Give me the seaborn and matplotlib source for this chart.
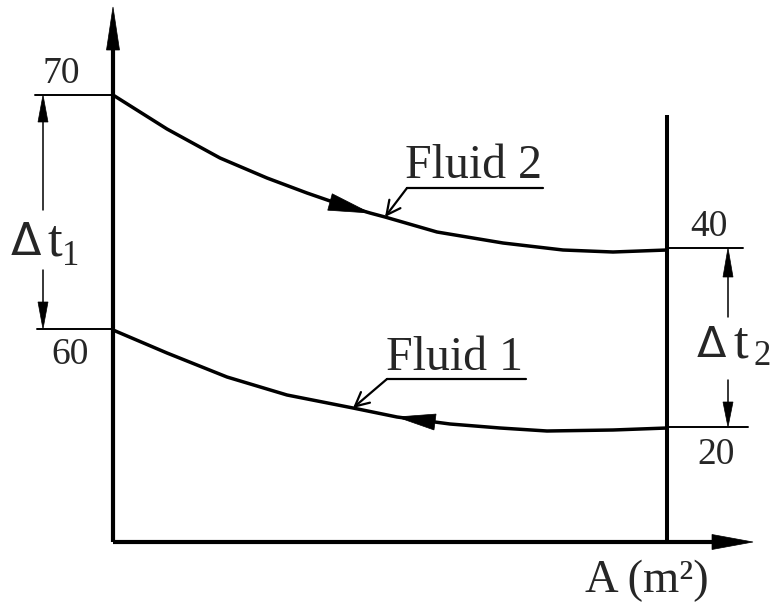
import numpy as np
import pandas as pd
import matplotlib
matplotlib.use("Agg")
import matplotlib.pyplot as plt
from matplotlib.patches import Polygon
import seaborn as sns

# ---- data (schematic diagram units: x = heat-transfer area position, y = diagram height) ----
A_fluid2 = [0, 54, 107, 154, 194, 220, 257, 272, 324, 390, 450, 500, 554]
Y_fluid2 = [447, 413, 384, 364, 349, 340, 329, 325, 310, 299, 292, 290, 292]
A_fluid1 = [0, 54, 114, 174, 240, 284, 337, 387, 434, 500, 554]
Y_fluid1 = [212, 189, 165, 147, 134, 125, 118, 114, 111, 112, 114]

left_labels = ["70", "60"]
left_pos = [447, 213]
right_labels = ["40", "20"]
right_pos = [294, 115]
A_end = 554
series_names = ["Fluid 2", "Fluid 1"]
x_label = "A (m²)"

sns.set_theme(style="white")
plt.rcParams["font.family"] = ["Liberation Serif", "DejaVu Serif"]

fig = plt.figure(figsize=(7.74, 6.11), dpi=100)
ax = fig.add_axes([0, 0, 1, 1])
ax.set_xlim(-113, 661)
ax.set_ylim(-69, 542)
ax.axis("off")

df = pd.concat([
    pd.DataFrame({"A": A_fluid2, "y": Y_fluid2, "fluid": series_names[0]}),
    pd.DataFrame({"A": A_fluid1, "y": Y_fluid1, "fluid": series_names[1]}),
])
sns.lineplot(data=df, x="A", y="y", units="fluid", estimator=None, sort=False,
             color="black", lw=2.5, ax=ax, legend=False)
for l in ax.lines:
    l.set_solid_joinstyle("round")


def head(tip, base, width):
    tip = np.array(tip, float)
    base = np.array(base, float)
    d = tip - base
    n = np.array([-d[1], d[0]]) / np.hypot(*d)
    pts = [tip, base + n * width / 2, base - n * width / 2]
    ax.add_patch(Polygon(pts, closed=True, facecolor="black", edgecolor="black", lw=0.5))


# axes
ax.plot([0, 0], [0, 500], color="black", lw=3.0, solid_capstyle="butt")
head((0, 535), (0, 492), 13)
ax.plot([0, 605], [0, 0], color="black", lw=3.0, solid_capstyle="butt")
head((640, 0), (599, 0), 15)
ax.plot([A_end, A_end], [-2, 427], color="black", lw=2.9, solid_capstyle="butt")

# tick lines and labels
ax.plot([-78, 0], [left_pos[0]] * 2, color="black", lw=1.4)
ax.plot([-76, 0], [left_pos[1]] * 2, color="black", lw=1.4)
ax.plot([A_end, 630], [right_pos[0]] * 2, color="black", lw=1.4)
ax.plot([A_end, 635], [right_pos[1]] * 2, color="black", lw=1.4)
ax.text(-52, left_pos[0] + 21, left_labels[0], fontsize=27, ha="center", va="center")
ax.text(-43, left_pos[1] - 26, left_labels[1], fontsize=27, ha="center", va="center")
ax.text(596, right_pos[0] + 21, right_labels[0], fontsize=27, ha="center", va="center")
ax.text(603, right_pos[1] - 28, right_labels[1], fontsize=27, ha="center", va="center")

# dimension arrows
xd1 = -70
ax.plot([xd1, xd1], [332, 425], color="black", lw=1.1)
head((xd1, left_pos[0]), (xd1, 420), 10)
ax.plot([xd1, xd1], [272, 235], color="black", lw=1.1)
head((xd1, left_pos[1]), (xd1, 240), 10)
ax.text(-87, 287, "Δ", fontsize=32, ha="center", va="baseline", family=["DejaVu Sans"])
ax.text(-58, 287, "t", fontsize=38, ha="center", va="baseline")
ax.text(-42, 277, "1", fontsize=25, ha="center", va="baseline")

xd2 = 615
ax.plot([xd2, xd2], [225, 270], color="black", lw=1.1)
head((xd2, right_pos[0]), (xd2, 265), 10)
ax.plot([xd2, xd2], [162, 138], color="black", lw=1.1)
head((xd2, right_pos[1]), (xd2, 140), 10)
ax.text(598, 185, "Δ", fontsize=31, ha="center", va="baseline", family=["DejaVu Sans"])
ax.text(628, 185, "t", fontsize=38, ha="center", va="baseline")
ax.text(649, 177, "2", fontsize=25, ha="center", va="baseline")

# flow direction arrowheads on curves
head((257, 329), (217, 340), 17)
head((284, 125), (322, 120), 16)

# labels with leaders
ax.text(292, 364, series_names[0], fontsize=34.5, ha="left", va="baseline")
ax.plot([294, 430], [354, 354], color="black", lw=1.6)
ax.annotate("", xy=(272, 325), xytext=(294, 354),
            arrowprops=dict(arrowstyle="->,head_length=0.5,head_width=0.25",
                            lw=1.6, color="black", shrinkA=0, shrinkB=0, mutation_scale=20))
ax.text(273, 172, series_names[1], fontsize=34.5, ha="left", va="baseline")
ax.plot([274, 413], [163, 163], color="black", lw=1.6)
ax.annotate("", xy=(240, 134), xytext=(274, 163),
            arrowprops=dict(arrowstyle="->,head_length=0.5,head_width=0.25",
                            lw=1.6, color="black", shrinkA=0, shrinkB=0, mutation_scale=20))

ax.text(534, -50, x_label, fontsize=33.5, ha="center", va="baseline")

fig.savefig("out.png", dpi=100, facecolor="white")
